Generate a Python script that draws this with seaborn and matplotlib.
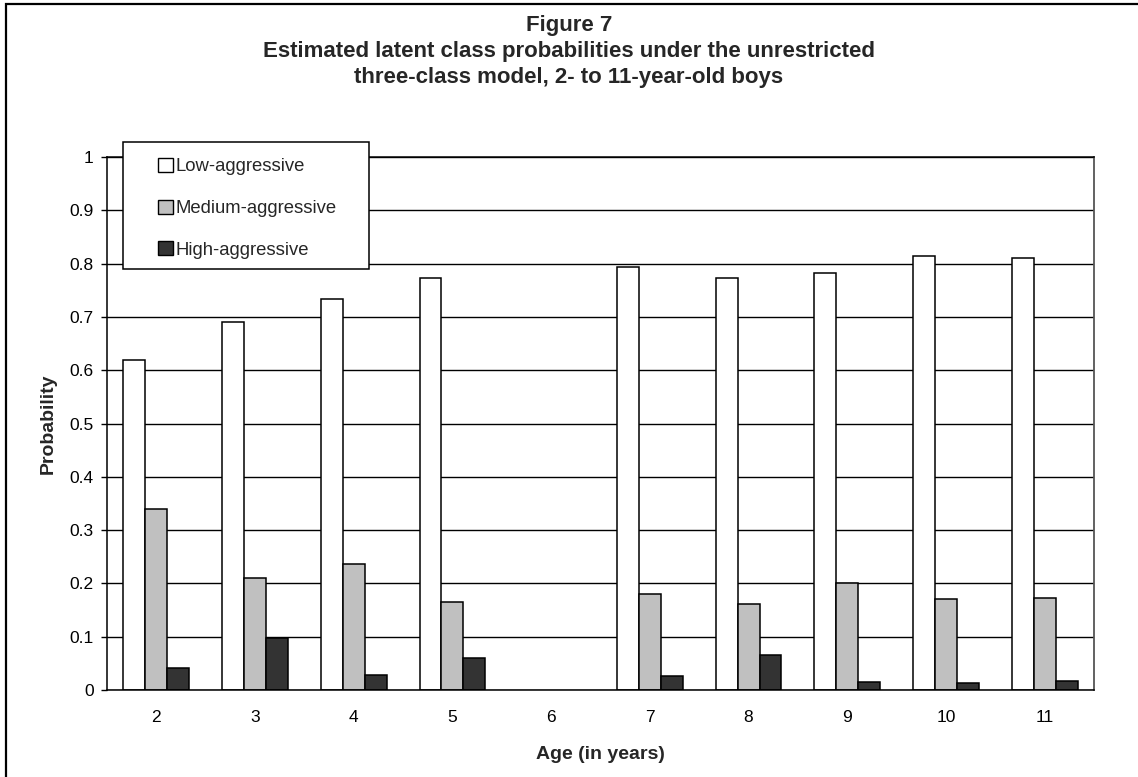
import numpy as np
import pandas as pd
import matplotlib
matplotlib.use("Agg")
import matplotlib.pyplot as plt
from matplotlib.patches import Patch, Rectangle
import seaborn as sns

ages = ["2", "3", "4", "5", "6", "7", "8", "9", "10", "11"]
classes = ["Low-aggressive", "Medium-aggressive", "High-aggressive"]
low = [0.620, 0.690, 0.733, 0.773, np.nan, 0.793, 0.773, 0.783, 0.815, 0.810]
medium = [0.339, 0.211, 0.236, 0.166, np.nan, 0.181, 0.162, 0.201, 0.171, 0.173]
high = [0.041, 0.098, 0.029, 0.060, np.nan, 0.026, 0.065, 0.015, 0.013, 0.017]
colors = ["#FFFFFF", "#C0C0C0", "#333333"]
yticks = [0, 0.1, 0.2, 0.3, 0.4, 0.5, 0.6, 0.7, 0.8, 0.9, 1]
ytick_labels = ["0", "0.1", "0.2", "0.3", "0.4", "0.5", "0.6", "0.7", "0.8", "0.9", "1"]

rows = []
for cls, vals in zip(classes, [low, medium, high]):
    for a, v in zip(ages, vals):
        rows.append({"Age": a, "Class": cls, "Probability": v})
df = pd.DataFrame(rows).dropna()

sns.set_theme(style="white")
plt.rcParams["font.family"] = ["Liberation Sans", "DejaVu Sans"]

W, H = 1138, 777
fig = plt.figure(figsize=(W / 100, H / 100), dpi=100)
ax = fig.add_axes([107 / W, 1 - 690 / H, (1094 - 107) / W, (690 - 157) / H])

sns.barplot(data=df, x="Age", y="Probability", hue="Class", order=ages,
            hue_order=classes, palette=colors, width=0.667, gap=0,
            edgecolor="black", linewidth=1.1, errorbar=None, legend=False,
            saturation=1, ax=ax)

ax.set_ylim(0, 1)
ax.set_xlim(-0.5, len(ages) - 0.5)
ax.set_yticks(yticks)
ax.set_yticklabels(ytick_labels, fontsize=12.5)
ax.tick_params(axis="y", which="major", left=True, length=4.5, width=1,
               color="black", pad=5, labelcolor="black")
ax.tick_params(axis="x", bottom=False, labelsize=12.5, pad=8.5, labelcolor="black")
ax.yaxis.grid(True, color="black", linewidth=1)
ax.xaxis.grid(False)
ax.set_axisbelow(True)
for s in ["left", "bottom", "top"]:
    ax.spines[s].set_visible(True)
    ax.spines[s].set_color("black")
    ax.spines[s].set_linewidth(1.1)
ax.spines["right"].set_visible(True)
ax.spines["right"].set_color("#555555")
ax.spines["right"].set_linewidth(1.3)

ax.set_xlabel("Age (in years)", fontsize=14, fontweight="bold", labelpad=15)
ax.set_ylabel("Probability", fontsize=14, fontweight="bold", labelpad=9)

# Title
for txt, yp in [("Figure 7", 25),
                ("Estimated latent class probabilities under the unrestricted", 51),
                ("three-class model, 2- to 11-year-old boys", 77)]:
    fig.text(569 / W, 1 - yp / H, txt, ha="center", va="center",
             fontsize=16, fontweight="bold")

# Legend box
box = Rectangle((123 / W, 1 - 269 / H), (369 - 123) / W, (269 - 142) / H,
                transform=fig.transFigure, facecolor="white", edgecolor="black",
                linewidth=1.1, zorder=4, clip_on=False)
ax.add_artist(box)
handles = [Patch(facecolor=c, edgecolor="black", linewidth=1) for c in colors]
leg = ax.legend(handles, classes, loc="upper left",
                bbox_to_anchor=(145 / W, 1 - 145 / H),
                bbox_transform=fig.transFigure, frameon=False, fontsize=13.3,
                handlelength=0.8, handleheight=0.8, handletextpad=0.15,
                labelspacing=1.31, borderpad=0.2)
leg.set_zorder(6)

# outer figure border (top and left visible)
fig.patches.append(Rectangle((6 / W, -0.05), 1.1, 1 - 4 / H + 0.05,
                             transform=fig.transFigure, facecolor="none",
                             edgecolor="black", linewidth=1.6, clip_on=False))

fig.savefig("out.png", dpi=100)
